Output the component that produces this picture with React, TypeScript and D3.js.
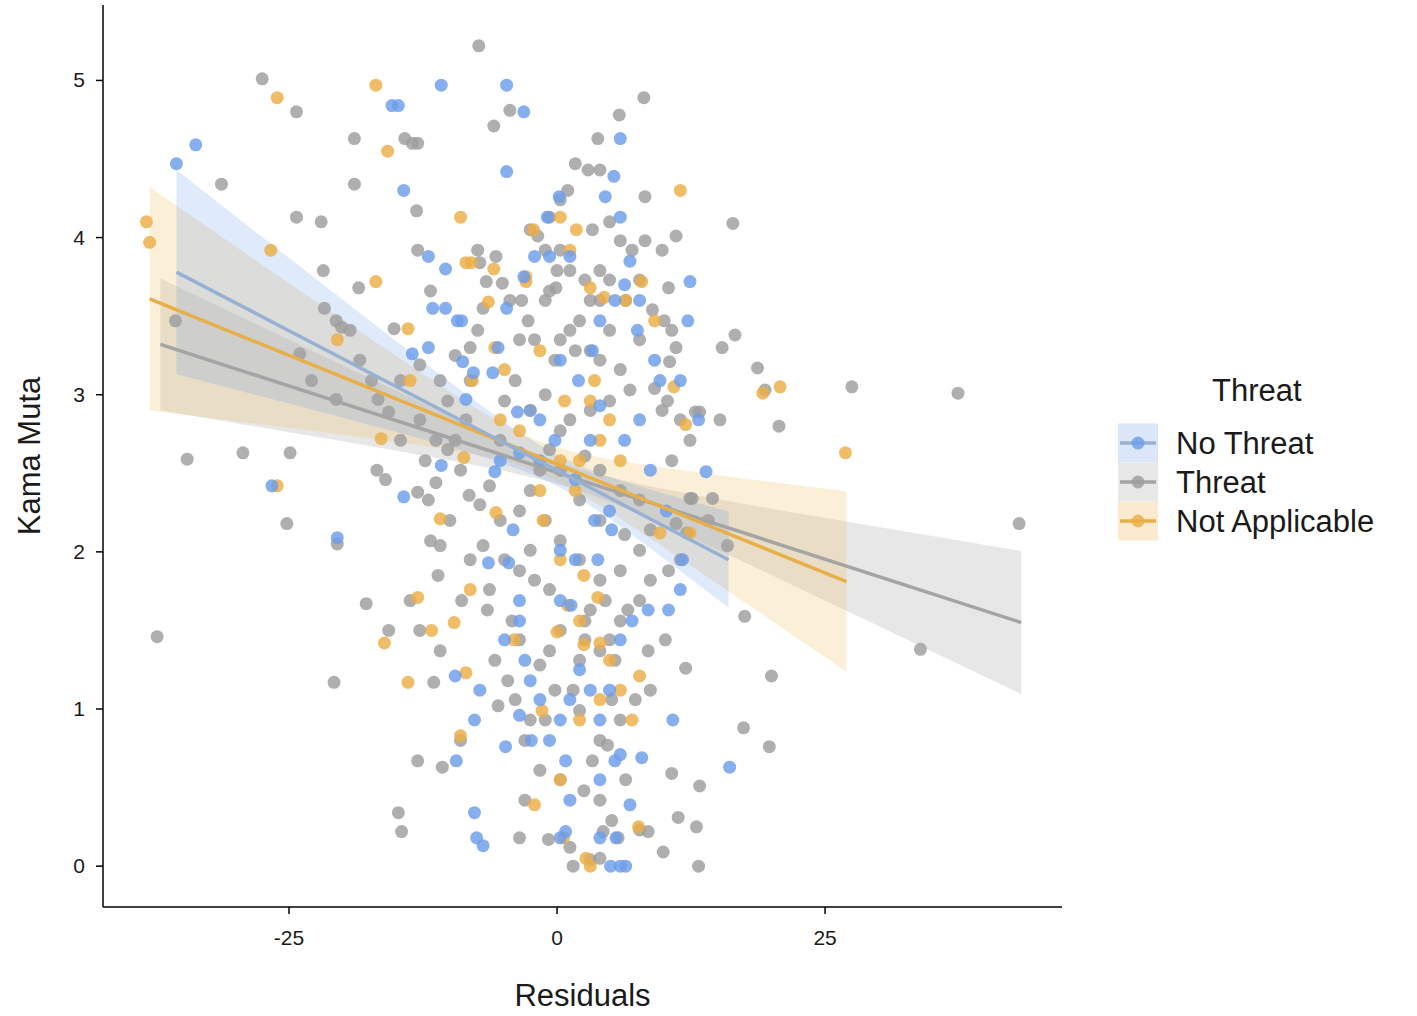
import * as d3 from 'd3';

// [residual, kama muta]
const noThreat: [number, number][] = [
  [-35.5,4.47],[-33.7,4.59],[-15.4,4.84],[-14.8,4.84],[-10.8,4.97],[-4.7,4.97],[-3.1,4.8],[5.9,4.63],[-14.3,4.3],[-4.7,4.42],
  [5.3,4.39],[4.5,4.26],[0.2,4.26],[5.9,4.13],[-0.9,4.13],[-12,3.88],[-10.4,3.8],[-11.6,3.55],[-10.4,3.55],[-9.3,3.47],
  [-8.9,3.47],[-13.5,3.26],[-12,3.3],[-8.8,3.21],[-7.8,3.14],[-6,3.14],[-5.5,3.3],[-4.7,3.55],[-3.1,3.75],[-2.1,3.88],
  [-0.7,3.88],[1.2,3.88],[-8.5,2.97],[-10.8,2.55],[-14.3,2.35],[-20.5,2.09],[-26.6,2.42],[-6.4,1.93],[-4.5,1.93],[-4.1,2.14],
  [-5.8,2.51],[-3.7,2.89],[-3.5,2.63],[-1.6,2.84],[0.3,3.22],[2,3.09],[3.3,3.28],[4,3.47],[5.4,3.6],[6.3,3.7],
  [6.8,3.85],[7.5,3.41],[7.7,3.6],[9.1,3.22],[9.6,3.09],[11.5,3.09],[12.2,3.47],[12.4,3.72],[13.2,2.84],[13.9,2.51],
  [10.2,2.26],[11.7,1.95],[11.5,1.76],[8.5,1.63],[7,1.56],[5.9,1.44],[4.9,1.12],[4,0.93],[3.1,1.12],[2.1,1.25],
  [1.2,1.06],[0.3,0.93],[-0.7,0.8],[-1.6,1.06],[-2.5,1.18],[-3.5,0.96],[-4.9,1.44],[-3,1.31],[-7.7,0.93],[-9.4,0.67],
  [-4.8,0.76],[-2.4,0.8],[0.8,0.67],[1.2,0.42],[4,0.55],[5.9,0.71],[5.4,0.67],[5.9,0],[6.4,0],[5,0],
  [0.8,0.22],[0.3,0.18],[-7.7,0.34],[-7.5,0.18],[-6.9,0.13],[10.8,0.93],[16.1,0.63],[7.9,0.69],[6.8,0.39],[4,0.18],
  [5.5,0.18],[-9.5,1.21],[-7.2,1.12],[0.3,1.69],[1.7,1.95],[0.3,2.01],[3.5,2.2],[4.9,2.26],[6.3,2.71],[7.7,2.84],
  [-1.6,2.58],[-3.5,1.69],[-3.5,1.56],[-5.3,2.58],[-2.5,2.9],[-0.2,2.71],[3.1,2.71],[4,2.93],[1.7,2.46],[8.7,2.52],
  [10.4,1.63],[5.1,2.14],[3.8,1.95],[1.3,1.66],
];

const threat: [number, number][] = [
  [-27.5,5.01],[-24.3,4.8],[-7.3,5.22],[-5.9,4.71],[-4.4,4.81],[-31.3,4.34],[-18.9,4.34],[-18.9,4.63],[-14.2,4.63],[-13.5,4.6],
  [-13,4.6],[-24.3,4.13],[-22,4.1],[-18.5,3.68],[-21.8,3.79],[-35.6,3.47],[-34.5,2.59],[-37.3,1.46],[-20.8,1.17],[-29.3,2.63],
  [-24.9,2.63],[-25.2,2.18],[-20.5,2.05],[-17.8,1.67],[-20.6,2.97],[-22.9,3.09],[-24,3.26],[-21.7,3.55],[-20.6,3.47],[-20.1,3.43],
  [-17.3,3.09],[-16.7,2.97],[-15.7,2.89],[-15.2,3.42],[-13.1,4.17],[-13,3.92],[-11.8,3.66],[-12.8,2.84],[-11.3,2.71],[-12.3,2.58],
  [-13,2.38],[-11.3,2.44],[-12,2.33],[-11.8,2.07],[-11.1,1.85],[-12.8,1.5],[-11.5,1.17],[-13,0.67],[-10.7,0.63],[-14.8,0.34],
  [-14.5,0.22],[-6.3,1.76],[-6.5,1.63],[-4.2,1.56],[-5.8,1.31],[-5.5,1.02],[-3.5,1.44],[-6.9,2.04],[-7.2,2.3],[-6.3,2.42],
  [-8.2,2.36],[-9.5,2.71],[-10.2,2.96],[-8.5,2.84],[-8.1,3.09],[-8.1,3.3],[-7.4,3.41],[-6.9,3.55],[-6.6,3.72],[-7.2,3.84],
  [-7.4,3.92],[-5.7,3.88],[-5.1,3.71],[-4.4,3.6],[-3.3,3.6],[-2.7,3.47],[-3.5,3.35],[-2.1,3.35],[-1.1,3.6],[-0.7,3.66],
  [-0.1,3.68],[0,3.79],[-1.1,3.92],[-1.8,4.01],[-2.5,4.05],[-0.7,4.13],[0.3,4.24],[1,4.3],[1.7,4.47],[2.9,4.43],
  [4,4.43],[4.9,4.1],[5.9,3.98],[7,3.92],[8.2,3.98],[8.2,4.26],[9.8,3.92],[11.1,4.01],[10.4,3.68],[10,3.47],
  [10.7,3.41],[11.1,3.3],[10.5,3.21],[9.1,3.04],[9.8,2.9],[11.5,2.84],[12.4,2.71],[10.7,2.58],[12.4,2.34],[14.5,2.34],
  [11.5,1.95],[10.4,1.88],[8.7,1.82],[7.7,1.69],[5.9,1.56],[4.9,1.44],[5.4,1.31],[4,1.37],[2.6,1.44],[2.1,1.31],
  [1.5,1.12],[-0.2,1.12],[-1.1,0.93],[-2.5,0.93],[-4.6,1.18],[-3.9,1.06],[-3,0.8],[-1.6,0.61],[0.3,0.55],[2.5,0.48],
  [4,0.42],[6.4,0.55],[5.1,0.29],[7.7,0.23],[9.9,0.09],[1.5,0],[3.1,0.04],[4,0.05],[4.3,0.22],[5.7,0.18],
  [8.5,0.22],[1.2,0.12],[-0.8,0.17],[-3.5,0.18],[-3,0.42],[10.7,0.59],[13.3,0.51],[11.3,0.31],[13,0.25],[13.2,0],
  [12,1.26],[10.1,1.44],[17.5,1.59],[17.4,0.88],[19.8,0.76],[20,1.21],[18.7,3.17],[16.6,3.38],[15.4,3.3],[16.4,4.09],
  [11.1,2.18],[12.1,2.12],[12.6,2.34],[14.1,2.2],[15.9,2.04],[10.3,2.96],[12.9,2.89],[13.3,2.89],[15.2,2.84],[33.9,1.38],
  [37.4,3.01],[43.1,2.18],[27.5,3.05],[20.7,2.8],[19.4,3.03],[5.8,4.78],[8.1,4.89],[3.8,4.63],[0.3,3.92],[3.3,4.05],
  [4,3.79],[4.9,3.73],[3.1,3.6],[2.1,3.47],[1.2,3.41],[0.3,3.35],[3.1,3.28],[4,3.22],[5.9,3.16],[6.8,3.03],
  [4.9,2.96],[3.1,2.9],[1.2,2.84],[0.3,2.77],[-0.7,2.65],[-1.6,2.52],[-2.5,2.39],[-3.5,2.26],[-1.1,2.2],[0.3,2.07],
  [2.1,1.95],[4,1.82],[5.9,1.88],[7.7,2.01],[8.7,2.14],[7.7,2.33],[5.9,2.39],[4,2.52],[2.6,2.61],[0.3,2.52],
  [2.1,2.33],[4,2.2],[6.3,2.11],[4.5,1.69],[3.1,1.63],[2.6,1.56],[0.3,1.5],[-0.7,1.37],[-1.6,1.28],[2.1,0.99],
  [4,0.8],[5.9,0.93],[7.3,1.06],[8.7,1.12],[8.5,1.37],[6.6,1.63],[5.1,1.06],[3.3,0.67],[4.7,0.77],[-0.7,1.76],
  [-2.1,1.82],[-3.5,1.88],[-4.9,1.95],[-8.1,1.95],[-8.9,1.69],[-10,2.2],[-9,2.52],[-5.3,2.2],[-2.5,2.01],[-10.9,2.04],
  [-13.7,1.69],[-15.7,1.5],[-10.9,1.37],[-9,0.8],[-10.2,2.65],[-16,2.46],[-16.8,2.52],[-14.6,2.71],[-18.4,3.22],[-19.3,3.41],
  [-12.8,3.19],[-14.6,3.09],[-9.5,3.25],[-10.9,3.09],[-3.9,3.09],[-4.9,2.96],[-5.3,2.71],[-1.1,3],[-0.2,3.22],[1.7,3.28],
  [4.9,3.41],[7.7,3.35],[8.9,3.54],[7.7,3.73],[6.4,3.6],[4,3.6],[2.6,3.73],[1.2,3.79],
];

const notApplicable: [number, number][] = [
  [-38.3,4.1],[-38,3.97],[-26.1,4.89],[-16.9,4.97],[-15.8,4.55],[-9,4.13],[-8.5,3.84],[-8,3.84],[-5.9,3.8],[-2.9,3.75],
  [-2.9,3.72],[-6.4,3.59],[-16.9,3.72],[-13.9,3.42],[-20.5,3.35],[-13.7,3.09],[-7.9,3.09],[-2.2,4.05],[0.3,4.13],[1.8,4.05],
  [1.2,3.92],[3.1,3.68],[4.4,3.62],[6.4,3.6],[11.5,4.3],[7.9,3.72],[9.1,3.47],[10.9,3.05],[12,2.81],[19.2,3.01],
  [20.8,3.05],[26.9,2.63],[-26.7,3.92],[-16.4,2.72],[-8.7,2.6],[-10.9,2.21],[-13,1.71],[-11.7,1.5],[-16.1,1.42],[-13.9,1.17],
  [-9,0.83],[-8.1,1.76],[-5.7,2.25],[-1.3,2.2],[1.7,2.39],[2.1,2.58],[4,2.71],[5.9,2.58],[4.9,2.84],[3.5,3.09],
  [3.1,2.96],[0.7,2.96],[-2.5,2.9],[-3.5,2.77],[-5.3,2.84],[0.3,2.58],[2.5,1.85],[3.8,1.71],[1,1.66],[2.1,1.56],
  [0,1.49],[2.5,1.41],[4,1.42],[7,0.93],[7.7,1.21],[5.9,1.12],[4,1.06],[0.3,0.55],[-1.4,0.99],[-2.1,0.39],
  [0.6,0.18],[7.6,0.25],[3.1,0],[2.7,0.05],[-4,1.44],[-9.6,1.55],[-8.5,1.23],[2.1,0.93],[4.9,1.31],[0.3,1.95],
  [-1.6,2.39],[9.6,2.12],[12.4,2.12],[-26.1,2.42],[-4.9,3.16],[-5.8,3.3],[-1.6,3.28],
];

// fitted lines: [xStart, yStart, xEnd, yEnd]
const fitNoThreat = [-35.5, 3.78, 16, 1.95];
const fitThreat = [-37, 3.32, 43.3, 1.55];
const fitNotApplicable = [-38, 3.61, 27, 1.81];
// band: [centre x, half width at centre, curvature]
const bandNoThreat = [0, 0.1, 3.27e-4];
const bandThreat = [1.5, 0.07, 1.16e-4];
const bandNotApplicable = [-2, 0.1, 3.81e-4];

const xTicks = [-25, 0, 25];
const yTicks = [0, 1, 2, 3, 4, 5];

const groups = [
  {name: 'No Threat', pts: noThreat, fit: fitNoThreat, band: bandNoThreat, dot: '#6d9eea', line: '#97b1d2', fill: 'rgba(109,158,234,0.22)', key: '#dbe6f8'},
  {name: 'Threat', pts: threat, fit: fitThreat, band: bandThreat, dot: '#9e9e9e', line: '#a4a4a4', fill: 'rgba(160,160,160,0.25)', key: '#e8e8e8'},
  {name: 'Not Applicable', pts: notApplicable, fit: fitNotApplicable, band: bandNotApplicable, dot: '#ebaf45', line: '#e8ae48', fill: 'rgba(240,190,100,0.25)', key: '#faebcf'},
];

export default function App() {
  const W = 1417, H = 1016;
  const left = 103, right = 1062, top = 5, bottom = 907;
  const x = d3.scaleLinear().domain([-42.35, 47.1]).range([left, right]);
  const y = d3.scaleLinear().domain([-0.26, 5.48]).range([bottom, top]);
  const font = '"Liberation Sans", Arial, sans-serif';

  // draw order: threat behind, then others
  const order = [1, 2, 0];

  return (
    <svg width={W} height={H} style={{position: 'absolute', left: 0, top: 0, background: '#fff'}} fontFamily={font}>
      {order.map((gi) => {
        const g = groups[gi];
        const [x0, y0, x1, y1] = g.fit;
        const [m, h0, b] = g.band;
        const xs = d3.range(41).map((i) => x0 + ((x1 - x0) * i) / 40);
        const fy = (v: number) => y0 + ((y1 - y0) * (v - x0)) / (x1 - x0);
        const hw = (v: number) => Math.sqrt(h0 * h0 + b * (v - m) * (v - m));
        const area = d3
          .area<number>()
          .x((v) => x(v))
          .y0((v) => y(fy(v) - hw(v)))
          .y1((v) => y(fy(v) + hw(v)));
        return <path key={'b' + gi} d={area(xs) || ''} fill={g.fill} />;
      })}
      {order.map((gi) => (
        <g key={'p' + gi}>
          {groups[gi].pts.map((p, i) => (
            <circle key={i} cx={x(p[0])} cy={y(p[1])} r={6.5} fill={groups[gi].dot} fillOpacity={0.82} />
          ))}
        </g>
      ))}
      {order.map((gi) => {
        const [x0, y0, x1, y1] = groups[gi].fit;
        return <line key={'l' + gi} x1={x(x0)} y1={y(y0)} x2={x(x1)} y2={y(y1)} stroke={groups[gi].line} strokeWidth={3.5} />;
      })}
      {/* axes */}
      <line x1={left} x2={right} y1={bottom} y2={bottom} stroke="#000" strokeWidth={1.5} />
      <line x1={left} x2={left} y1={top} y2={bottom} stroke="#000" strokeWidth={1.5} />
      {xTicks.map((t) => (
        <g key={'xt' + t}>
          <line x1={x(t)} x2={x(t)} y1={bottom} y2={bottom + 7} stroke="#000" strokeWidth={1.5} />
          <text x={x(t)} y={bottom + 38} textAnchor="middle" fontSize={21} fill="#1a1a1a">{t}</text>
        </g>
      ))}
      {yTicks.map((t) => (
        <g key={'yt' + t}>
          <line x1={left - 7} x2={left} y1={y(t)} y2={y(t)} stroke="#000" strokeWidth={1.5} />
          <text x={left - 18} y={y(t) + 7} textAnchor="end" fontSize={21} fill="#1a1a1a">{t}</text>
        </g>
      ))}
      <text x={(left + right) / 2} y={1006} textAnchor="middle" fontSize={31} fill="#1a1a1a">Residuals</text>
      <text transform={`translate(40,${(top + bottom) / 2}) rotate(-90)`} textAnchor="middle" fontSize={31} fill="#1a1a1a">Kama Muta</text>
      {/* legend */}
      <text x={1212} y={401} fontSize={31} fill="#1a1a1a">Threat</text>
      {groups.map((g, i) => {
        const cy = 443 + i * 39;
        return (
          <g key={'lg' + i}>
            <rect x={1118} y={cy - 19.5} width={40} height={39} fill={g.key} />
            <line x1={1120} x2={1156} y1={cy} y2={cy} stroke={g.line} strokeWidth={3.5} />
            <circle cx={1138} cy={cy} r={6.5} fill={g.dot} fillOpacity={0.82} />
            <text x={1176} y={cy + 11} fontSize={31} fill="#1a1a1a">{g.name}</text>
          </g>
        );
      })}
    </svg>
  );
}
